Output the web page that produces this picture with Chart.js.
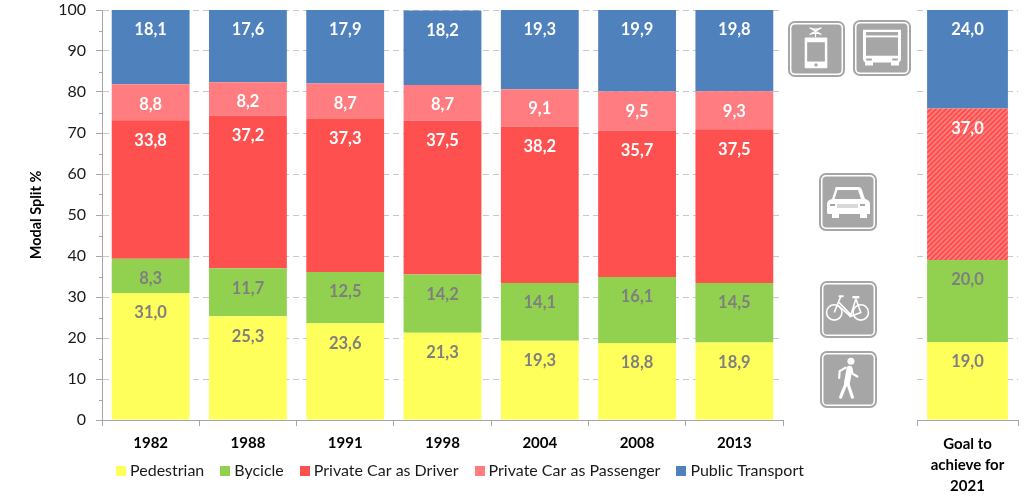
<!DOCTYPE html>
<html><head><meta charset="utf-8">
<script src="https://cdn.jsdelivr.net/npm/chart.js@4"></script>
<style>
html,body{margin:0;padding:0;background:#fff;overflow:hidden}
#wrap{position:relative;width:1024px;height:501px;overflow:hidden}
canvas{position:absolute;top:0}
svg.ic{position:absolute;overflow:visible}
</style></head><body>
<div id="wrap">
<canvas id="main" style="left:0"></canvas>
<canvas id="goal" style="left:900px"></canvas>
</div>
<script>
const categories = ["1982","1988","1991","1998","2004","2008","2013"];
const pedestrian = [31.0,25.3,23.6,21.3,19.3,18.8,18.9];
const bicycle    = [8.3,11.7,12.5,14.2,14.1,16.1,14.5];
const carDriver  = [33.8,37.2,37.3,37.5,38.2,35.7,37.5];
const carPassenger = [8.8,8.2,8.7,8.7,9.1,9.5,9.3];
const publicTransport = [18.1,17.6,17.9,18.2,19.3,19.9,19.8];

const goalCategory = [["Goal to","achieve for","2021"]];
const goalPedestrian = [19.0];
const goalBicycle = [20.0];
const goalCar = [37.0];
const goalPublic = [24.0];

const seriesNames = ["Pedestrian","Bycicle","Private Car as Driver","Private Car as Passenger","Public Transport"];
const seriesColors = ["#FFFF5C","#92D050","#FF5050","#FF7C80","#4F81BD"];
const labelColors = ["#7F7F7F","#7F7F7F","#FFFFFF","#FFFFFF","#FFFFFF"];

const FONT = "Lato, Carlito, 'Open Sans', sans-serif";
const AXIS = "#A6A6A6", GRID = "#C8C8C8";

function hatch(){
  const s = 5, c = document.createElement("canvas");
  c.width = c.height = s;
  const g = c.getContext("2d");
  g.fillStyle = "#FF8686"; g.fillRect(0,0,s,s);
  g.strokeStyle = "#FF4F4F"; g.lineWidth = 2.2;
  g.beginPath();
  g.moveTo(-1,1); g.lineTo(1,-1);
  g.moveTo(-1,s+1); g.lineTo(s+1,-1);
  g.moveTo(s-1,s+1); g.lineTo(s+1,s-1);
  g.stroke();
  return g.createPattern(c,"repeat");
}
function swatch(color){
  const c = document.createElement("canvas");
  c.width = c.height = 10;
  const g = c.getContext("2d");
  g.fillStyle = color; g.fillRect(0,0,10,10);
  return c;
}

const valueLabels = {
  id:"valueLabels",
  afterDatasetsDraw(chart){
    const ctx = chart.ctx;
    ctx.save();
    ctx.font = "bold 16.5px " + FONT;
    ctx.textAlign = "center"; ctx.textBaseline = "middle";
    chart.data.datasets.forEach((ds,i)=>{
      chart.getDatasetMeta(i).data.forEach((bar,j)=>{
        ctx.fillStyle = ds.labelColor;
        ctx.fillText(ds.data[j].toFixed(1).replace(".",","), bar.x, bar.y + 20);
      });
    });
    ctx.restore();
  }
};
const minorTicks = {
  id:"minorTicks",
  afterDraw(chart){
    const y = chart.scales.y, ctx = chart.ctx;
    ctx.save(); ctx.strokeStyle = AXIS; ctx.lineWidth = 1;
    for(let v=5;v<100;v+=10){
      const p = Math.round(y.getPixelForValue(v))+.5;
      ctx.beginPath(); ctx.moveTo(y.right-3,p); ctx.lineTo(y.right,p); ctx.stroke();
    }
    ctx.restore();
  }
};
const raiseLegend = {
  id:"raiseLegend",
  afterLayout(chart){ chart.legend.top -= 10; chart.legend.bottom -= 10; }
};
function noPad(s){s.paddingTop=0;s.paddingBottom=0;}

function sets(arrs, idx, override){
  return arrs.map((d,i)=>({label:seriesNames[idx[i]],data:d,backgroundColor:(override&&override[i])||seriesColors[idx[i]],
    labelColor:labelColors[idx[i]],stack:"s",barPercentage:.8,categoryPercentage:1,borderWidth:0}));
}
Chart.defaults.animation = false;
Chart.defaults.responsive = false;
Chart.defaults.font.family = FONT;

const mainCanvas = document.getElementById("main");
mainCanvas.width = 924; mainCanvas.height = 501;
new Chart(mainCanvas,{
  type:"bar",
  data:{labels:categories,datasets:sets([pedestrian,bicycle,carDriver,carPassenger,publicTransport],[0,1,2,3,4])},
  plugins:[valueLabels,minorTicks,raiseLegend],
  options:{
    responsive:false,
    layout:{padding:{top:10,bottom:2,left:0,right:0}},
    plugins:{
      tooltip:{enabled:false},
      legend:{position:"bottom",labels:{usePointStyle:true,pointStyleWidth:2,boxHeight:10,padding:20,color:"#1A1A1A",font:{size:16,family:FONT},
        generateLabels(chart){
          return chart.data.datasets.map((d,i)=>({text:d.label,pointStyle:swatch(d.backgroundColor),fontColor:"#1A1A1A",datasetIndex:i,lineWidth:0,hidden:false}));
        }}}
    },
    scales:{
      x:{stacked:true,
        grid:{drawOnChartArea:false,color:AXIS,tickLength:6},
        border:{color:AXIS},
        ticks:{color:"#000",font:{size:15,weight:"bold",family:FONT},padding:8,maxRotation:0},
        afterFit(s){s.height=33}},
      y:{stacked:true,min:0,max:100,
        grid:{color:GRID,tickColor:AXIS,tickBorderDash:[],tickLength:6,z:-1},
        border:{color:AXIS,dash:[6,4]},
        ticks:{stepSize:10,color:"#1A1A1A",font:{size:16,family:FONT},padding:10},
        title:{display:true,text:"Modal Split %",color:"#000",font:{size:14.5,weight:"bold",family:FONT},padding:{top:28,bottom:0}},
        afterFit(s){s.width=102;noPad(s);}},
      pad:{position:"right",display:true,grid:{display:false},border:{display:false},ticks:{display:false},
        afterFit(s){s.width=141;noPad(s);}}
    }
  }
});

const goalCanvas = document.getElementById("goal");
goalCanvas.width = 124; goalCanvas.height = 501;
new Chart(goalCanvas,{
  type:"bar",
  data:{labels:goalCategory,datasets:sets([goalPedestrian,goalBicycle,goalCar,goalPublic],[0,1,2,4],[null,null,hatch(),null])},
  plugins:[valueLabels],
  options:{
    responsive:false,
    layout:{padding:{top:10,bottom:0,left:17,right:6}},
    plugins:{tooltip:{enabled:false},legend:{display:false}},
    scales:{
      x:{stacked:true,
        grid:{drawOnChartArea:false,color:AXIS,tickLength:6},
        border:{color:AXIS},
        ticks:{color:"#000",font:{size:15,weight:"bold",family:FONT,lineHeight:1.4},padding:8,maxRotation:0},
        afterFit(s){s.height=81}},
      y:{stacked:true,min:0,max:100,
        grid:{color:GRID,drawTicks:false},
        border:{display:false,dash:[6,4]},
        ticks:{display:false,stepSize:10},
        afterFit(s){s.width=0;noPad(s);}}
    }
  }
});

/* pictogram signs */
const wrap = document.getElementById("wrap");
const glyphs = {
 tram:`<g fill="none" stroke="#fff" stroke-width="1.2"><path d="M22 7l12 7M34 7l-12 7M22 7q6 3 12 0M22 14q6-3 12 0M28 11v6"/></g>
  <rect x="17" y="17" width="23" height="32" rx="1" fill="#fff"/><rect x="19.500" y="22" width="18" height="20" fill="#A6A6A6"/><circle cx="28.500" cy="45.500" r="1.700" fill="#A6A6A6"/>`,
 bus:`<path d="M10 10h38v30q0 3-2 4v3h-8v-3H20v3h-8v-3q-2-1-2-4z" fill="#fff"/><rect x="13" y="18" width="32" height="19" fill="#A6A6A6"/><rect x="13" y="12.500" width="32" height="3.500" fill="#A6A6A6"/>
  <rect x="13" y="40" width="6" height="2" rx="1" fill="#A6A6A6"/><rect x="39" y="40" width="6" height="2" rx="1" fill="#A6A6A6"/>`,
 car:`<path d="M17 14h23q2 0 3 3l3 9q5 1 5 5v10h-3v4h-7v-4H20v4h-7v-4h-3q-2 0-2-1V31q0-4 5-5l3-9q0-3 1-3z" fill="#fff"/><path d="M18.500 17h20.500l3 9H15.500z" fill="#A6A6A6"/><rect x="18" y="31" width="21" height="4" fill="#D9D9D9"/>
  <rect x="11" y="31" width="5" height="2" fill="#A6A6A6"/><rect x="41" y="31" width="5" height="2" fill="#A6A6A6"/>`,
 bike:`<g fill="none" stroke="#fff" stroke-width="1.600"><circle cx="14.500" cy="32" r="7.800"/><circle cx="41.500" cy="32" r="7.800"/><path d="M21 16L14.500 32M19.500 22L31 34M18.500 25L31 36M36.500 18L31 36L41.500 32L36.500 18"/><path d="M19 15.500h5" stroke-width="2"/><path d="M33 16.500h7" stroke-width="2.400"/></g>`,
 walk:`<circle cx="31.500" cy="10.500" r="3.600" fill="#fff"/><g fill="none" stroke="#fff" stroke-linecap="round" stroke-linejoin="round"><path d="M30 18l-2.500 14" stroke-width="6"/><path d="M27 32l-6 15M28 32l5 15" stroke-width="3.200"/><path d="M26 17l-6 3.500-.5 7M32 18l1 5 5 3" stroke-width="2.200"/></g>`
};
[["tram",788,21,57,56],["bus",853,20,58,56],["car",819,173,58,58],["bike",820,281,57,57],["walk",820,351,57,57]].forEach(([k,x,y,w,h])=>{
  wrap.insertAdjacentHTML("beforeend",`<svg class="ic" style="left:${x}px;top:${y}px" width="${w}" height="${h}" viewBox="0 0 58 58" preserveAspectRatio="none">
   <rect x="1" y="1" width="56" height="56" rx="6" fill="#fff" stroke="#A6A6A6" stroke-width="2"/>
   <rect x="3.500" y="3.500" width="51" height="51" rx="4" fill="#A6A6A6"/>${glyphs[k]}</svg>`);
});
</script>
</body></html>
